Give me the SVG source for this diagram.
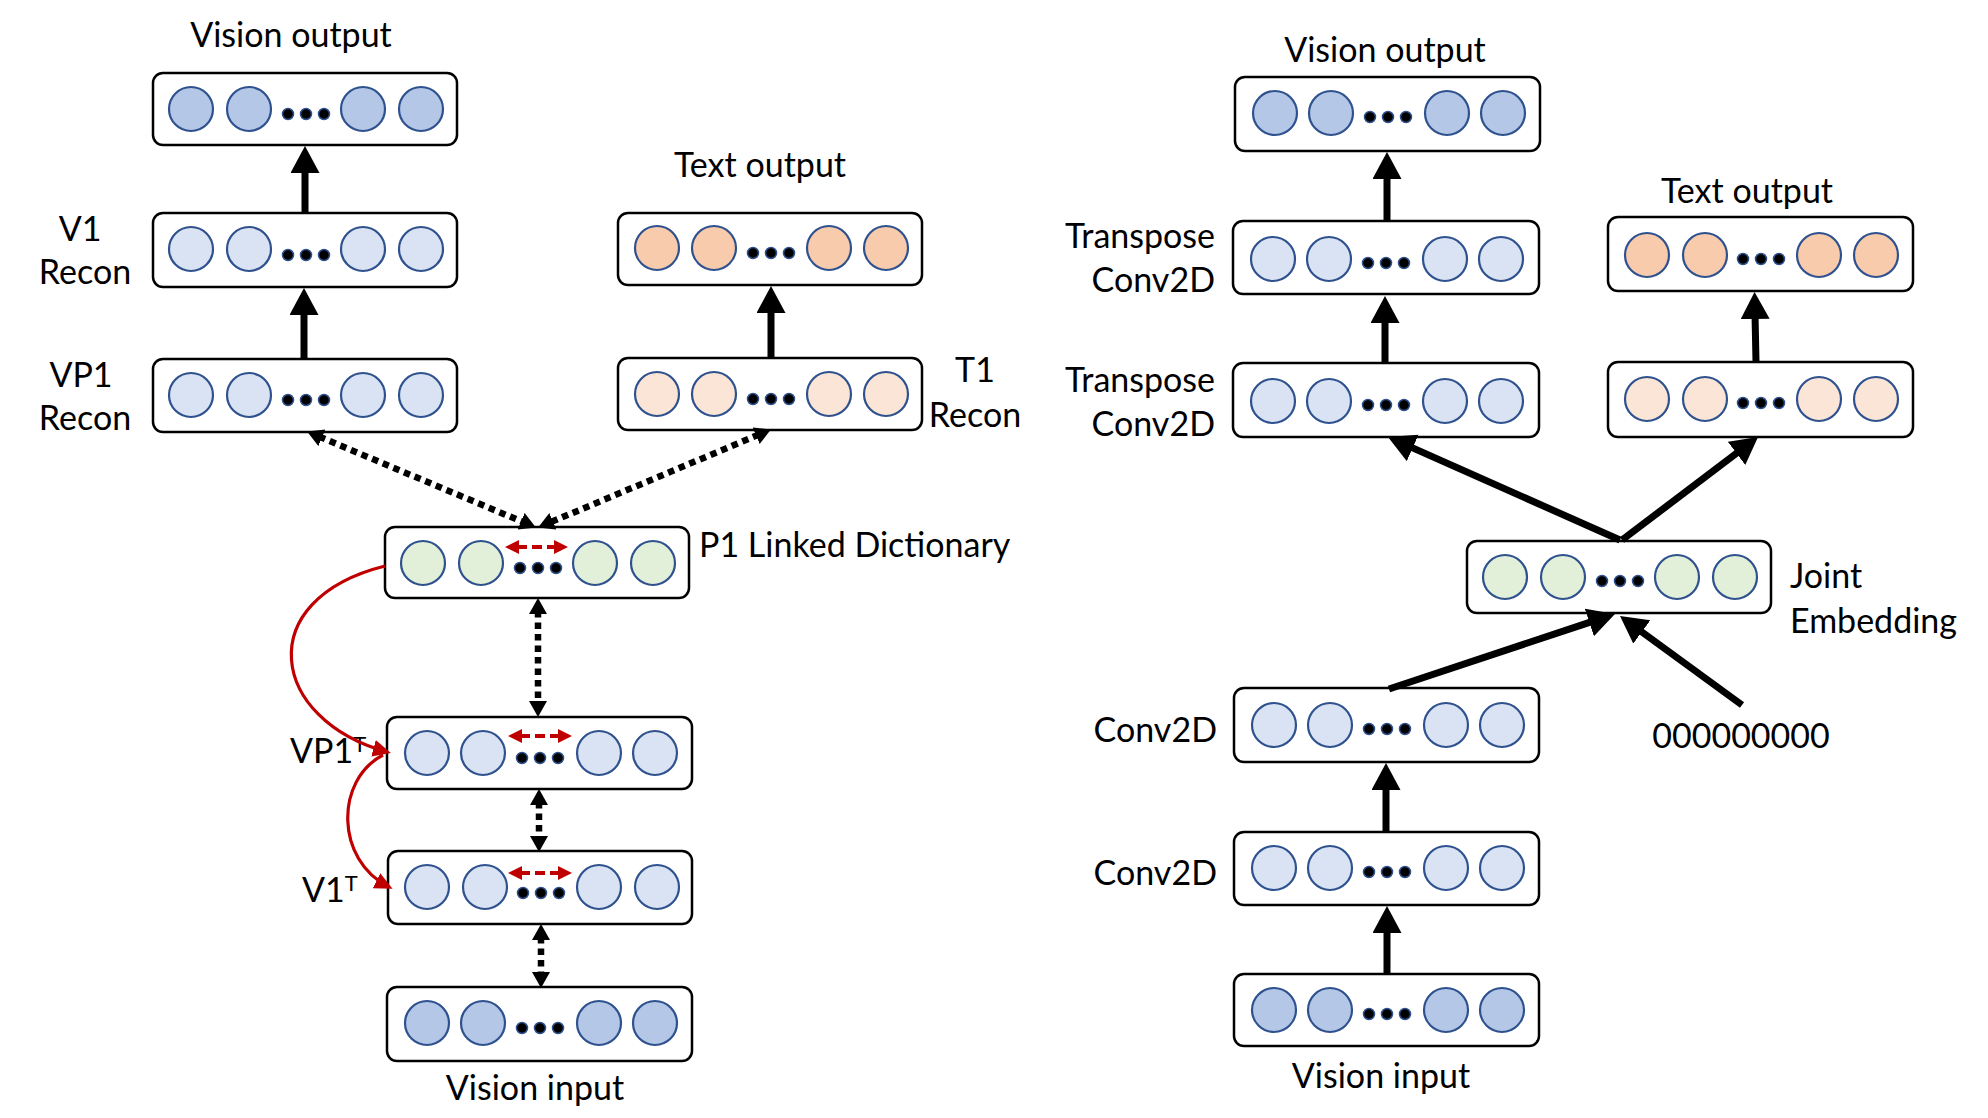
<svg xmlns="http://www.w3.org/2000/svg" width="1988" height="1118" viewBox="0 0 1988 1118">
<style>
  .box{fill:#fff;stroke:#000;stroke-width:2.5}
  .c{stroke:#2F528F;stroke-width:2.2}
  .vd{fill:#B4C7E7}
  .vl{fill:#DAE3F3}
  .od{fill:#F8CBAD}
  .ol{fill:#FBE5D6}
  .g{fill:#E2F0D9}
  .dot{fill:#000;stroke:#2F528F;stroke-width:1.5}
  .lbl{font-family:Lato,"Liberation Sans",sans-serif;font-size:34px;fill:#000}
  .mid{text-anchor:middle}
  .end{text-anchor:end}
  .solid{stroke:#000;stroke-width:7;fill:none;marker-end:url(#ah)}
  .dotted{stroke:#000;stroke-width:6.5;stroke-dasharray:6.5 5;fill:none;marker-start:url(#dh);marker-end:url(#dh)}
  .redd{stroke:#C00000;stroke-width:4;stroke-dasharray:10 5;fill:none;marker-start:url(#rh);marker-end:url(#rh)}
  .redc{stroke:#C00000;stroke-width:3.2;fill:none;marker-end:url(#rc)}
</style>
<defs>
  <marker id="ah" markerUnits="userSpaceOnUse" markerWidth="30" markerHeight="30" refX="5" refY="14.5" orient="auto"><path d="M0,0 L27,14.5 L0,29 z" fill="#000"/></marker>
  <marker id="dh" markerUnits="userSpaceOnUse" markerWidth="18" markerHeight="19" refX="3" refY="9" orient="auto-start-reverse"><path d="M0,0 L16,9 L0,18 z" fill="#000"/></marker>
  <marker id="rh" markerUnits="userSpaceOnUse" markerWidth="16" markerHeight="16" refX="2" refY="7" orient="auto-start-reverse"><path d="M0,0 L14,7 L0,14 z" fill="#C00000"/></marker>
  <marker id="rc" markerUnits="userSpaceOnUse" markerWidth="20" markerHeight="18" refX="14" refY="8.5" orient="auto"><path d="M0,0 L18,8.5 L0,17 z" fill="#C00000"/></marker>
  <g id="dots"><circle class="dot" cx="135" cy="0" r="5.5"/><circle class="dot" cx="153" cy="0" r="5.5"/><circle class="dot" cx="171" cy="0" r="5.5"/></g>
</defs>

<!-- LEFT DIAGRAM -->
<g id="L-vision-output">
  <rect class="box" x="153" y="73" width="304" height="72" rx="10"/>
  <circle class="c vd" cx="191" cy="109" r="22"/><circle class="c vd" cx="249" cy="109" r="22"/><circle class="c vd" cx="363" cy="109" r="22"/><circle class="c vd" cx="421" cy="109" r="22"/>
  <use href="#dots" x="153" y="114"/>
  <text class="lbl mid" x="291" y="47">Vision output</text>
</g>
<g id="L-v1-recon">
  <rect class="box" x="153" y="213" width="304" height="74" rx="10"/>
  <circle class="c vl" cx="191" cy="249" r="22"/><circle class="c vl" cx="249" cy="249" r="22"/><circle class="c vl" cx="363" cy="249" r="22"/><circle class="c vl" cx="421" cy="249" r="22"/>
  <use href="#dots" x="153" y="255"/>
  <text class="lbl mid" x="80" y="241">V1</text>
  <text class="lbl mid" x="85" y="284">Recon</text>
</g>
<g id="L-vp1-recon">
  <rect class="box" x="153" y="359" width="304" height="73" rx="10"/>
  <circle class="c vl" cx="191" cy="395" r="22"/><circle class="c vl" cx="249" cy="395" r="22"/><circle class="c vl" cx="363" cy="395" r="22"/><circle class="c vl" cx="421" cy="395" r="22"/>
  <use href="#dots" x="153" y="400"/>
  <text class="lbl mid" x="81" y="387">VP1</text>
  <text class="lbl mid" x="85" y="430">Recon</text>
</g>
<g id="L-text-output">
  <rect class="box" x="618" y="213" width="304" height="72" rx="10"/>
  <circle class="c od" cx="657" cy="248" r="22"/><circle class="c od" cx="714" cy="248" r="22"/><circle class="c od" cx="829" cy="248" r="22"/><circle class="c od" cx="886" cy="248" r="22"/>
  <use href="#dots" x="618" y="253"/>
  <text class="lbl mid" x="760" y="177">Text output</text>
</g>
<g id="L-t1-recon">
  <rect class="box" x="618" y="358" width="304" height="72" rx="10"/>
  <circle class="c ol" cx="657" cy="394" r="22"/><circle class="c ol" cx="714" cy="394" r="22"/><circle class="c ol" cx="829" cy="394" r="22"/><circle class="c ol" cx="886" cy="394" r="22"/>
  <use href="#dots" x="618" y="399"/>
  <text class="lbl mid" x="975" y="382">T1</text>
  <text class="lbl mid" x="975" y="427">Recon</text>
</g>
<g id="L-p1-dictionary">
  <rect class="box" x="385" y="527" width="304" height="71" rx="10"/>
  <circle class="c g" cx="423" cy="563" r="22"/><circle class="c g" cx="481" cy="563" r="22"/><circle class="c g" cx="595" cy="563" r="22"/><circle class="c g" cx="653" cy="563" r="22"/>
  <use href="#dots" x="385" y="568"/>
  <text class="lbl" x="699" y="557">P1 Linked Dictionary</text>
</g>
<g id="L-vp1t">
  <rect class="box" x="387" y="717" width="305" height="72" rx="10"/>
  <circle class="c vl" cx="427" cy="753" r="22"/><circle class="c vl" cx="483" cy="753" r="22"/><circle class="c vl" cx="599" cy="753" r="22"/><circle class="c vl" cx="655" cy="753" r="22"/>
  <use href="#dots" x="387" y="758"/>
  <text class="lbl" x="290" y="763">VP1<tspan dy="-11" font-size="22">T</tspan></text>
</g>
<g id="L-v1t">
  <rect class="box" x="388" y="851" width="304" height="73" rx="10"/>
  <circle class="c vl" cx="427" cy="887" r="22"/><circle class="c vl" cx="485" cy="887" r="22"/><circle class="c vl" cx="599" cy="887" r="22"/><circle class="c vl" cx="657" cy="887" r="22"/>
  <use href="#dots" x="388" y="893"/>
  <text class="lbl" x="302" y="902">V1<tspan dy="-11" font-size="22">T</tspan></text>
</g>
<g id="L-vision-input">
  <rect class="box" x="387" y="987" width="305" height="74" rx="10"/>
  <circle class="c vd" cx="427" cy="1023" r="22"/><circle class="c vd" cx="483" cy="1023" r="22"/><circle class="c vd" cx="599" cy="1023" r="22"/><circle class="c vd" cx="655" cy="1023" r="22"/>
  <use href="#dots" x="387" y="1028"/>
  <text class="lbl mid" x="535" y="1100">Vision input</text>
</g>

<!-- RIGHT DIAGRAM -->
<g id="R-vision-output">
  <rect class="box" x="1235" y="77" width="305" height="74" rx="10"/>
  <circle class="c vd" cx="1275" cy="113" r="22"/><circle class="c vd" cx="1331" cy="113" r="22"/><circle class="c vd" cx="1447" cy="113" r="22"/><circle class="c vd" cx="1503" cy="113" r="22"/>
  <use href="#dots" x="1235" y="117"/>
  <text class="lbl mid" x="1385" y="62">Vision output</text>
</g>
<g id="R-transpose-1">
  <rect class="box" x="1233" y="221" width="306" height="73" rx="10"/>
  <circle class="c vl" cx="1273" cy="259" r="22"/><circle class="c vl" cx="1329" cy="259" r="22"/><circle class="c vl" cx="1445" cy="259" r="22"/><circle class="c vl" cx="1501" cy="259" r="22"/>
  <use href="#dots" x="1233" y="263"/>
  <text class="lbl end" x="1215" y="248">Transpose</text>
  <text class="lbl end" x="1215" y="292">Conv2D</text>
</g>
<g id="R-transpose-2">
  <rect class="box" x="1233" y="363" width="306" height="74" rx="10"/>
  <circle class="c vl" cx="1273" cy="401" r="22"/><circle class="c vl" cx="1329" cy="401" r="22"/><circle class="c vl" cx="1445" cy="401" r="22"/><circle class="c vl" cx="1501" cy="401" r="22"/>
  <use href="#dots" x="1233" y="405"/>
  <text class="lbl end" x="1215" y="392">Transpose</text>
  <text class="lbl end" x="1215" y="436">Conv2D</text>
</g>
<g id="R-text-output">
  <rect class="box" x="1608" y="217" width="305" height="74" rx="10"/>
  <circle class="c od" cx="1647" cy="255" r="22"/><circle class="c od" cx="1705" cy="255" r="22"/><circle class="c od" cx="1819" cy="255" r="22"/><circle class="c od" cx="1876" cy="255" r="22"/>
  <use href="#dots" x="1608" y="259"/>
  <text class="lbl mid" x="1747" y="203">Text output</text>
</g>
<g id="R-text-recon">
  <rect class="box" x="1608" y="362" width="305" height="75" rx="10"/>
  <circle class="c ol" cx="1647" cy="399" r="22"/><circle class="c ol" cx="1705" cy="399" r="22"/><circle class="c ol" cx="1819" cy="399" r="22"/><circle class="c ol" cx="1876" cy="399" r="22"/>
  <use href="#dots" x="1608" y="403"/>
</g>
<g id="R-joint-embedding">
  <rect class="box" x="1467" y="541" width="304" height="72" rx="10"/>
  <circle class="c g" cx="1505" cy="577" r="22"/><circle class="c g" cx="1563" cy="577" r="22"/><circle class="c g" cx="1677" cy="577" r="22"/><circle class="c g" cx="1735" cy="577" r="22"/>
  <use href="#dots" x="1467" y="581"/>
  <text class="lbl" x="1790" y="588">Joint</text>
  <text class="lbl" x="1790" y="633">Embedding</text>
</g>
<g id="R-zeros">
  <text class="lbl mid" x="1741" y="748">000000000</text>
</g>
<g id="R-conv2d-1">
  <rect class="box" x="1234" y="688" width="305" height="74" rx="10"/>
  <circle class="c vl" cx="1274" cy="725" r="22"/><circle class="c vl" cx="1330" cy="725" r="22"/><circle class="c vl" cx="1446" cy="725" r="22"/><circle class="c vl" cx="1502" cy="725" r="22"/>
  <use href="#dots" x="1234" y="729"/>
  <text class="lbl end" x="1217" y="742">Conv2D</text>
</g>
<g id="R-conv2d-2">
  <rect class="box" x="1234" y="832" width="305" height="73" rx="10"/>
  <circle class="c vl" cx="1274" cy="868" r="22"/><circle class="c vl" cx="1330" cy="868" r="22"/><circle class="c vl" cx="1446" cy="868" r="22"/><circle class="c vl" cx="1502" cy="868" r="22"/>
  <use href="#dots" x="1234" y="872"/>
  <text class="lbl end" x="1217" y="885">Conv2D</text>
</g>
<g id="R-vision-input">
  <rect class="box" x="1234" y="974" width="305" height="72" rx="10"/>
  <circle class="c vd" cx="1274" cy="1010" r="22"/><circle class="c vd" cx="1330" cy="1010" r="22"/><circle class="c vd" cx="1446" cy="1010" r="22"/><circle class="c vd" cx="1502" cy="1010" r="22"/>
  <use href="#dots" x="1234" y="1014"/>
  <text class="lbl mid" x="1381" y="1088">Vision input</text>
</g>

<g id="connectors">
  <!-- left solid -->
  <line class="solid" x1="305" y1="213" x2="305" y2="168"/>
  <line class="solid" x1="304" y1="359" x2="304" y2="310"/>
  <line class="solid" x1="771" y1="358" x2="771" y2="308"/>
  <!-- left dotted -->
  <line class="dotted" x1="319.1" y1="436.6" x2="523.9" y2="522.4"/>
  <line class="dotted" x1="758.9" y1="434.6" x2="550.1" y2="522.4"/>
  <line class="dotted" x1="538" y1="611" x2="538" y2="704"/>
  <line class="dotted" x1="539" y1="802" x2="539" y2="839"/>
  <line class="dotted" x1="541" y1="937" x2="541" y2="975"/>
  <!-- red dashed -->
  <line class="redd" x1="517" y1="547" x2="556" y2="547"/>
  <line class="redd" x1="520" y1="736" x2="560" y2="736"/>
  <line class="redd" x1="520" y1="873" x2="560" y2="873"/>
  <path class="redc" d="M385,566 C250,600 270,720 387,752"/>
  <path class="redc" d="M383,755 C335,780 335,860 389,887"/>
  <!-- right solid -->
  <line class="solid" x1="1387" y1="221" x2="1387" y2="174"/>
  <line class="solid" x1="1385" y1="363" x2="1385" y2="318"/>
  <line class="solid" x1="1756" y1="362" x2="1755" y2="314"/>
  <line class="solid" x1="1620" y1="540" x2="1408.1" y2="445.9"/>
  <line class="solid" x1="1622" y1="540" x2="1740.5" y2="450.3"/>
  <line class="solid" x1="1389" y1="689" x2="1594.1" y2="620.9"/>
  <line class="solid" x1="1742" y1="705" x2="1637.8" y2="629"/>
  <line class="solid" x1="1386" y1="832" x2="1386" y2="785"/>
  <line class="solid" x1="1387" y1="974" x2="1387" y2="928"/>
</g>
</svg>
